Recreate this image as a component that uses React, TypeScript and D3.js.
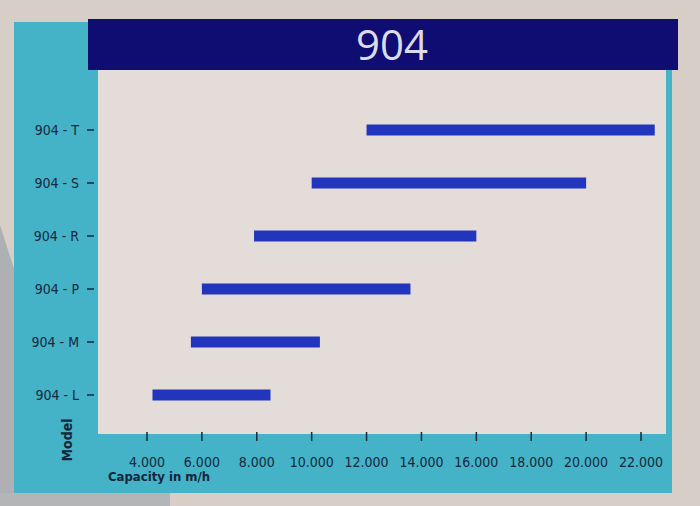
import React from "react";
import * as d3 from "d3";

const models = ["904 - L", "904 - M", "904 - P", "904 - R", "904 - S", "904 - T"];
const capacityMin = [4200, 5600, 6000, 7900, 10000, 12000];
const capacityMax = [8500, 10300, 13600, 16000, 20000, 22500];
const xTicks = [4000, 6000, 8000, 10000, 12000, 14000, 16000, 18000, 20000, 22000];
const title = "904";

export default function App() {
  const W = 700, H = 506;
  const plot = { left: 98, right: 666, top: 70, bottom: 434 };
  const x = d3.scaleLinear().domain([4000, 22000]).range([147, 641]);
  const y = d3.scalePoint<string>().domain(models).range([395, 130]);
  const fmt = (v: number) => d3.format(",")(v).replace(",", ".");
  const font = "'DejaVu Sans Condensed', 'Liberation Sans Narrow', sans-serif";
  return (
    <svg width={W} height={H} style={{ position: "absolute", left: 0, top: 0 }}>
      <rect x={0} y={0} width={W} height={H} fill="#d6cec7" />
      <polygon points="0,225 24,300 32,506 0,506" fill="#aeb0b3" />
      <rect x={0} y={493} width={170} height={13} fill="#b4b5b7" />
      <rect x={14} y={22} width={658} height={471} fill="#44b3c8" />
      <rect x={plot.left} y={plot.top} width={plot.right - plot.left} height={plot.bottom - plot.top} fill="#e4dcd8" />
      <rect x={88} y={19} width={590} height={51} fill="#0f0c72" />
      <text x={392} y={60} textAnchor="middle" fill="#dcdce8" fontSize={42} fontFamily="'Open Sans', sans-serif">{title}</text>
      {models.map((m, i) => (
        <g key={m}>
          <rect x={x(capacityMin[i])} y={(y(m) as number) - 5.5} width={x(capacityMax[i]) - x(capacityMin[i])} height={11} fill="#2236bd" />
          <text x={79} y={(y(m) as number) + 5} textAnchor="end" fontSize={14} fontFamily={font} fill="#17283c">{m}</text>
          <line x1={87} x2={94} y1={y(m)} y2={y(m)} stroke="#17283c" strokeWidth={1.5} />
        </g>
      ))}
      {xTicks.map((t) => (
        <g key={t}>
          <line x1={x(t)} x2={x(t)} y1={432} y2={441} stroke="#17283c" strokeWidth={1.5} />
          <text x={x(t)} y={467} textAnchor="middle" fontSize={14} fontFamily={font} fill="#17283c">{fmt(t)}</text>
        </g>
      ))}
      <text x={108} y={481} fontSize={13} fontWeight="bold" fontFamily={font} fill="#15263a">Capacity in  m/h</text>
      <text transform="translate(72,440) rotate(-90)" textAnchor="middle" fontSize={14} fontWeight="bold" fontFamily={font} fill="#15263a">Model</text>
    </svg>
  );
}
